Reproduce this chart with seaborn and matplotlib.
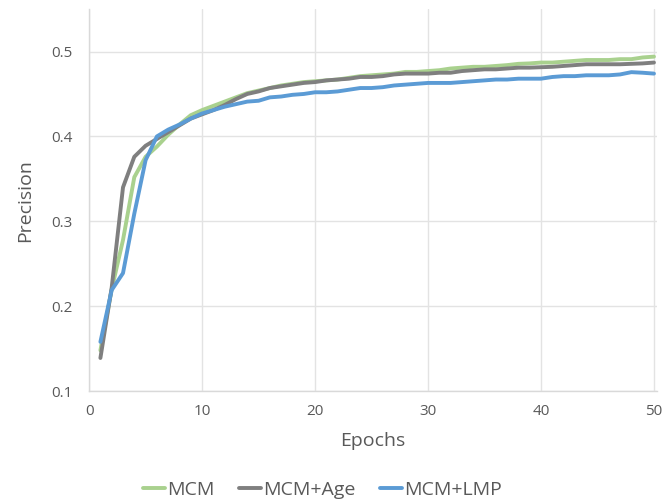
import numpy as np
import pandas as pd
import matplotlib
matplotlib.use("Agg")
import matplotlib.pyplot as plt
import seaborn as sns
from matplotlib.lines import Line2D

epochs = list(range(1, 51))
mcm = [0.148, 0.220, 0.278, 0.352, 0.376, 0.388, 0.402, 0.414, 0.425, 0.431,
       0.436, 0.441, 0.446, 0.451, 0.454, 0.457, 0.460, 0.462, 0.464, 0.465,
       0.466, 0.467, 0.469, 0.471, 0.472, 0.473, 0.474, 0.476, 0.476, 0.477,
       0.478, 0.480, 0.481, 0.482, 0.482, 0.483, 0.484, 0.4855, 0.486, 0.487,
       0.487, 0.488, 0.489, 0.490, 0.490, 0.490, 0.491, 0.491, 0.493, 0.494]
mcm_age = [0.139, 0.222, 0.340, 0.376, 0.389, 0.397, 0.405, 0.413, 0.421, 0.426,
           0.431, 0.437, 0.444, 0.450, 0.453, 0.457, 0.459, 0.461, 0.463, 0.464,
           0.466, 0.467, 0.468, 0.470, 0.470, 0.471, 0.473, 0.474, 0.474, 0.474,
           0.475, 0.475, 0.477, 0.478, 0.479, 0.479, 0.480, 0.481, 0.481, 0.4815,
           0.482, 0.483, 0.484, 0.485, 0.485, 0.485, 0.485, 0.4855, 0.486, 0.487]
mcm_lmp = [0.158, 0.219, 0.239, 0.309, 0.372, 0.400, 0.408, 0.414, 0.421, 0.427,
           0.431, 0.435, 0.438, 0.441, 0.442, 0.446, 0.447, 0.449, 0.450, 0.452,
           0.452, 0.453, 0.455, 0.457, 0.457, 0.458, 0.460, 0.461, 0.462, 0.463,
           0.463, 0.463, 0.464, 0.465, 0.466, 0.467, 0.467, 0.468, 0.468, 0.468,
           0.470, 0.471, 0.471, 0.472, 0.472, 0.472, 0.473, 0.4757, 0.475, 0.474]

series_names = ["MCM", "MCM+Age", "MCM+LMP"]
colors = ["#A9D18E", "#7F7F7F", "#5B9BD5"]
y_ticks = [0.1, 0.2, 0.3, 0.4, 0.5]
y_tick_labels = ["0.1", "0.2", "0.3", "0.4", "0.5"]
x_ticks = [0, 10, 20, 30, 40, 50]

df = pd.DataFrame({"Epochs": epochs * 3,
                   "Precision": mcm + mcm_age + mcm_lmp,
                   "Model": [series_names[0]] * 50 + [series_names[1]] * 50 + [series_names[2]] * 50})

sns.set_theme(style="white")
plt.rcParams['font.family'] = ['Open Sans', 'DejaVu Sans']

fig = plt.figure(figsize=(6.65, 5.04), dpi=100)
ax = fig.add_axes([0.134, 0.224, 0.854, 0.758])
sns.lineplot(data=df, x="Epochs", y="Precision", hue="Model", palette=colors,
             linewidth=2.8, ax=ax, legend=False)

ax.set_xlim(0, 50.27)
ax.set_ylim(0.1, 0.55)
ax.set_xticks(x_ticks)
ax.set_yticks(y_ticks)
ax.set_yticklabels(y_tick_labels)
ax.grid(True, color="#E3E3E3", linewidth=1)
ax.set_axisbelow(True)
for s in ["top", "right"]:
    ax.spines[s].set_visible(False)
for s in ["left", "bottom"]:
    ax.spines[s].set_color("#D9D9D9")
    ax.spines[s].set_linewidth(1)
ax.tick_params(axis="both", length=0, labelsize=11, colors="#595959")
ax.tick_params(axis="y", pad=12)
ax.tick_params(axis="x", pad=9)
ax.set_xlabel("Epochs", fontsize=14, color="#595959", labelpad=10)
ax.set_ylabel("Precision", fontsize=14, color="#595959", labelpad=12)

handles = [Line2D([0], [0], color=c, linewidth=2.8) for c in colors]
fig.legend(handles, series_names, loc="center", bbox_to_anchor=(0.485, 0.028),
           ncol=3, frameon=False, fontsize=14, handlelength=1.1,
           handletextpad=0.1, columnspacing=1.3, labelcolor="#595959")

fig.savefig("out.png", dpi=100)
